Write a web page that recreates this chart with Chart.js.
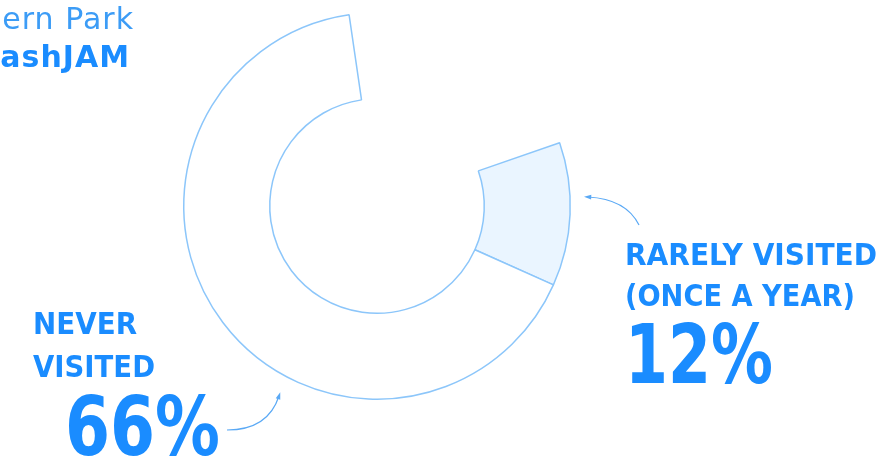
<!DOCTYPE html>
<html>
<head>
<meta charset="utf-8">
<script src="https://cdn.jsdelivr.net/npm/chart.js@4.4.1/dist/chart.umd.min.js"></script>
<style>
  html, body { margin: 0; padding: 0; background: #fff; }
  #wrap { width: 886px; height: 457px; overflow: hidden; }
</style>
</head>
<body>
<div id="wrap"><canvas id="chart" width="886" height="457"></canvas></div>
<script>
// survey shares, clockwise from the top
const categories = ['Visited more often', 'Rarely visited (once a year)', 'Never visited'];
const shares = [22, 12, 66];
const fills = ['rgba(0,0,0,0)', '#eaf5ff', '#ffffff'];
const edges = ['rgba(0,0,0,0)', '#8cc6fa', '#8cc6fa'];

const rareLines = ['RARELY VISITED', '(ONCE A YEAR)'];
const neverLines = ['NEVER', 'VISITED'];
const headerLines = ['ern Park', 'ashJAM'];

const blue = '#1a8cff';

function squeezeText(ctx, txt, x, y, w) {
  ctx.fillText(txt, x, y, w);
}

function arrow(ctx, x0, y0, cx, cy, x1, y1) {
  ctx.beginPath();
  ctx.moveTo(x0, y0);
  ctx.quadraticCurveTo(cx, cy, x1, y1);
  ctx.stroke();
  const a = Math.atan2(y1 - cy, x1 - cx);
  ctx.beginPath();
  ctx.moveTo(x1 + Math.cos(a) * 4, y1 + Math.sin(a) * 4);
  ctx.lineTo(x1 + Math.cos(a + 2.5) * 4, y1 + Math.sin(a + 2.5) * 4);
  ctx.lineTo(x1 + Math.cos(a - 2.5) * 4, y1 + Math.sin(a - 2.5) * 4);
  ctx.closePath();
  ctx.fill();
}

const callouts = {
  id: 'callouts',
  afterDraw(chart) {
    const ctx = chart.ctx;
    ctx.save();
    ctx.textBaseline = 'alphabetic';

    // cut-off title at the top left
    ctx.textAlign = 'right';
    ctx.letterSpacing = '1px';
    ctx.fillStyle = '#3c9cf6';
    ctx.font = '400 30px "DejaVu Sans"';
    ctx.fillText(headerLines[0], 134, 29);
    ctx.fillStyle = blue;
    ctx.font = '700 30px "DejaVu Sans"';
    ctx.fillText(headerLines[1], 130, 67);
    ctx.letterSpacing = '0px';

    ctx.textAlign = 'left';
    ctx.fillStyle = blue;
    ctx.font = '700 30px "DejaVu Sans"';
    squeezeText(ctx, rareLines[0], 625, 265, 252);
    squeezeText(ctx, rareLines[1], 625, 306, 230);
    squeezeText(ctx, neverLines[0], 33, 334, 104);
    squeezeText(ctx, neverLines[1], 33, 377, 122);

    ctx.font = '700 82px "DejaVu Sans"';
    squeezeText(ctx, shares[1] + '%', 625, 383, 148);
    squeezeText(ctx, shares[2] + '%', 65, 455, 155);

    // little pointer arrows
    ctx.strokeStyle = '#5aa9f5';
    ctx.fillStyle = '#5aa9f5';
    ctx.lineWidth = 1.2;
    arrow(ctx, 639, 225, 626, 199, 588, 197);
    arrow(ctx, 227, 430, 268, 430, 279, 396);
    ctx.restore();
  }
};

new Chart(document.getElementById('chart'), {
  type: 'doughnut',
  data: {
    labels: categories,
    datasets: [{
      data: shares,
      backgroundColor: fills,
      borderColor: edges,
      borderWidth: [0, 1.5, 1.5]
    }]
  },
  options: {
    responsive: false,
    animation: false,
    cutout: '55.5%',
    rotation: -8.3,
    layout: { padding: { left: 183, right: 315, top: 12, bottom: 57 } },
    plugins: {
      legend: { display: false },
      tooltip: { enabled: false }
    }
  },
  plugins: [callouts]
});
</script>
</body>
</html>
